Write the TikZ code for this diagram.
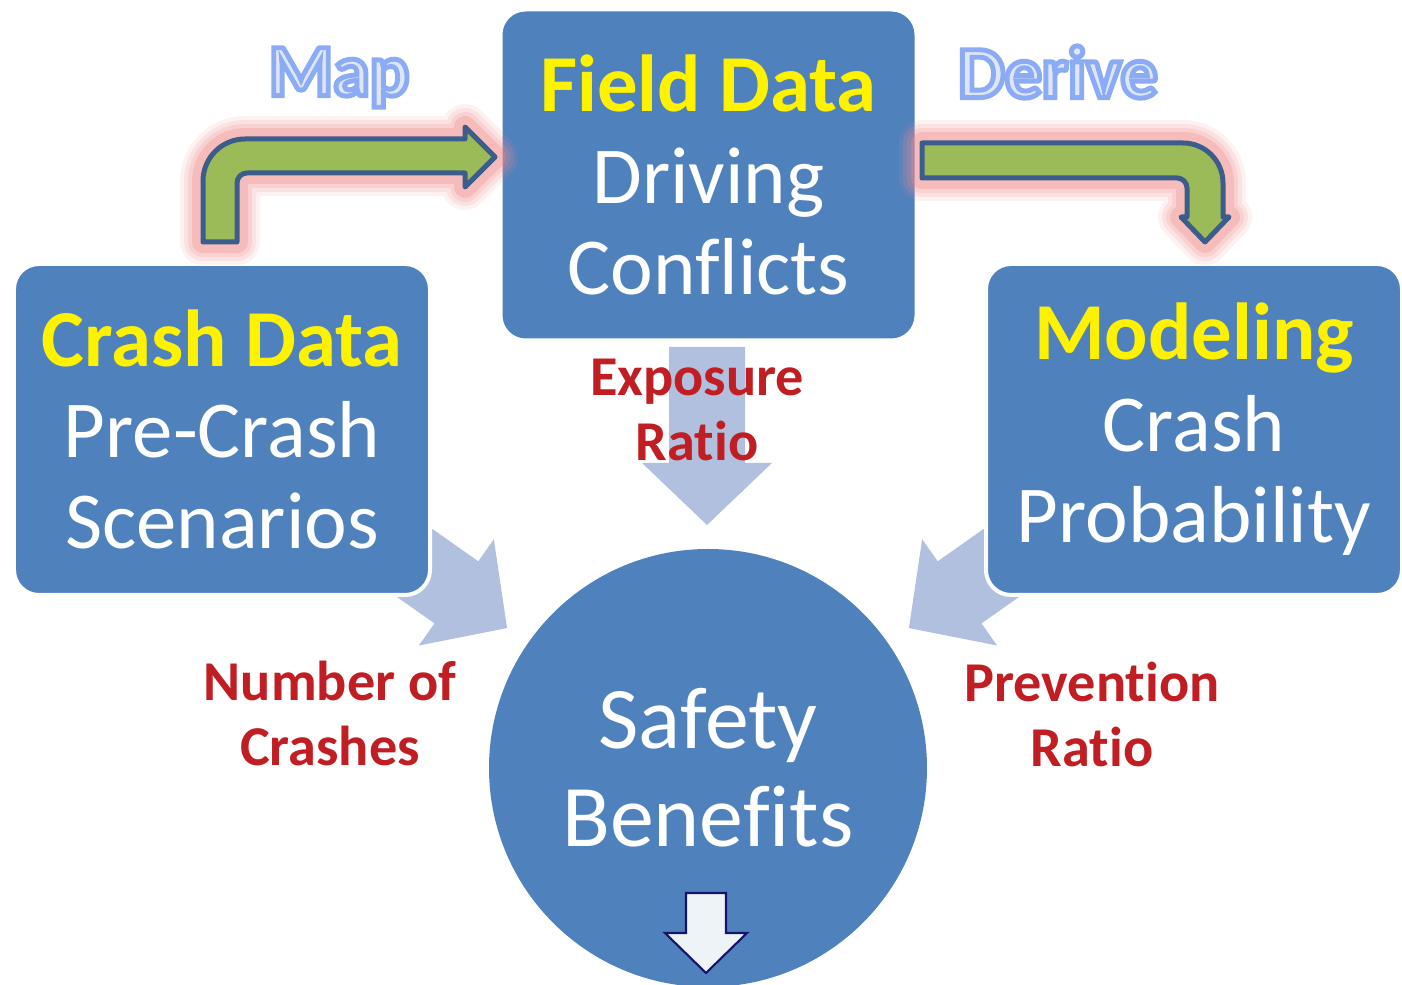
\documentclass[tikz,border=0pt]{standalone}
\usepackage{fontspec}
\setmainfont{Carlito}[Ligatures=CommonOff]
\usetikzlibrary{positioning, arrows.meta}

\definecolor{boxblue}{RGB}{79,129,189}
\definecolor{flowblue}{RGB}{176,192,222}
\definecolor{stepgreen}{RGB}{155,187,89}
\definecolor{edgeblue}{RGB}{60,92,140}
\definecolor{glowred}{RGB}{240,140,140}
\definecolor{mapfill}{RGB}{222,230,245}
\definecolor{labelred}{RGB}{192,30,35}
\definecolor{outnavy}{RGB}{20,20,110}
\definecolor{paleblue}{RGB}{238,243,248}

\begin{document}
\begin{tikzpicture}[
        box/.style={draw=white, line width=0.04cm, fill=boxblue, rounded corners=0.25cm, text=white, align=center, minimum width=4.16cm, minimum height=3.31cm, font=\fontsize{23}{26}\selectfont},
        hub/.style={circle, fill=boxblue, text=white, align=center, minimum size=4.38cm, font=\fontsize{25}{28}\selectfont},
        tag/.style={align=center, text=mapfill, font=\bfseries\fontsize{21}{24}\selectfont},
        ratio/.style={align=center, text=labelred, font=\bfseries\fontsize{16}{18.5}\selectfont},
        bent/.style={draw=edgeblue, line width=0.05cm, fill=stepgreen, line join=round,
            preaction={draw=glowred, line width=0.46cm, opacity=0.12, line join=round},
            preaction={draw=glowred, line width=0.38cm, opacity=0.15, line join=round},
            preaction={draw=glowred, line width=0.30cm, opacity=0.2, line join=round},
            preaction={draw=glowred, line width=0.22cm, opacity=0.3, line join=round}},
        flow/.pic={\fill[flowblue] (-0.38,0) -- (-0.38,-1.16) -- (-0.65,-1.16) -- (0,-1.78) -- (0.65,-1.16) -- (0.38,-1.16) -- (0.38,0) -- cycle;}
    ]
    \useasboundingbox (0,0) rectangle (14.02,-9.85);

    % Zufluesse
    \pic at (7.07,-3.47) {flow};
    \pic[rotate=54.8] at (3.616,-5.255) {flow};
    \pic[rotate=-54.8] at (10.544,-5.255) {flow};

    % Hauptkomponenten
    \node (field) [box] at (7.085,-1.75) {\textcolor{yellow}{\textbf{Field Data}}\\Driving\\Conflicts};
    \node (crash) [box] at (2.22,-4.295) {\textcolor{yellow}{\textbf{Crash Data}}\\Pre-Crash\\Scenarios};
    \node (model) [box] at (11.94,-4.295) {\textcolor{yellow}{\textbf{Modeling}}\\Crash\\Probability};
    \node (safety) [hub] at (7.08,-7.68) {Safety\\Benefits};

    \draw[outnavy, fill=paleblue, line width=0.6pt] (6.86,-8.93) -- (7.26,-8.93) -- (7.26,-9.33) -- (7.47,-9.33) -- (7.06,-9.73) -- (6.65,-9.33) -- (6.86,-9.33) -- cycle;

    % Verbindungen
    \draw[bent] (2.03,-2.42) -- (2.03,-1.81) arc[start angle=180, end angle=90, radius=0.42] -- (4.65,-1.39) -- (4.65,-1.27) -- (4.95,-1.57) -- (4.65,-1.87) -- (4.65,-1.73) -- (2.47,-1.73) arc[start angle=90, end angle=180, radius=0.10] -- (2.37,-2.42) -- cycle;
    \draw[bent] (9.22,-1.43) -- (11.83,-1.43) arc[start angle=90, end angle=0, radius=0.40] -- (12.23,-2.17) -- (12.29,-2.17) -- (12.05,-2.42) -- (11.81,-2.17) -- (11.87,-2.17) -- (11.87,-1.88) arc[start angle=0, end angle=90, radius=0.10] -- (9.22,-1.78) -- cycle;

    % Beschriftungen
    \node (map) [tag] at (3.39,-0.775) {\special{pdf:literal direct 2 Tr 1.4 w 0.55 0.67 0.96 RG}Map\special{pdf:literal direct 0 Tr}};
    \node (derive) [tag] at (10.58,-0.72) {\special{pdf:literal direct 2 Tr 1.4 w 0.55 0.67 0.96 RG}Derive\special{pdf:literal direct 0 Tr}};
    \node (exposure) [ratio] at (6.97,-4.10) {Exposure\\Ratio};
    \node (number) [ratio] at (3.30,-7.13) {Number of\\Crashes};
    \node (prevention) [ratio] at (10.92,-7.14) {Prevention\\Ratio};

\end{tikzpicture}
\end{document}
